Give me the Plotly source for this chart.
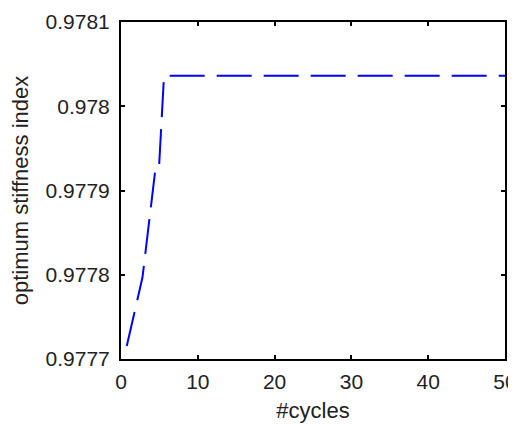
import plotly.graph_objects as go

cycles = [0.75, 2.8, 4.5, 4.95, 5.6, 50]
stiffness = [0.9777154, 0.977797, 0.9779272, 0.9779272, 0.9780361, 0.9780361]

x_ticks = [0, 10, 20, 30, 40, 50]
y_ticks = [0.9777, 0.9778, 0.9779, 0.978, 0.9781]
y_ticktext = ["0.9777", "0.9778", "0.9779", "0.978", "0.9781"]

fig = go.Figure()
fig.add_trace(go.Scatter(
    x=cycles, y=stiffness, mode="lines",
    line=dict(color="#0000ff", width=2, dash="35px,12px"),
    showlegend=False,
))

family = "Liberation Sans, Arial, sans-serif"
font = dict(family=family, size=21, color="#222222")
axis_common = dict(
    showline=True, mirror="ticks", linecolor="black", linewidth=2,
    ticks="inside", ticklen=4, tickwidth=2, tickcolor="black",
    showgrid=False, zeroline=False, tickfont=font, ticklabeloverflow="allow",
)
fig.update_xaxes(range=[0, 50], tickvals=x_ticks, ticklabelstandoff=3,
                 title=dict(text="#cycles", font=dict(family=family, size=22, color="#222222"), standoff=10),
                 **axis_common)
fig.update_yaxes(range=[0.9777, 0.9781], tickvals=y_ticks, ticktext=y_ticktext,
                 ticklabelstandoff=5,
                 title=dict(text="optimum stiffness index", font=dict(family=family, size=22, color="#222222"), standoff=12),
                 **axis_common)
fig.update_layout(
    width=508, height=417,
    margin=dict(l=113, r=11, t=14, b=66, autoexpand=False),
    paper_bgcolor="white", plot_bgcolor="white",
    font=font,
)
fig.write_html("out.html")
